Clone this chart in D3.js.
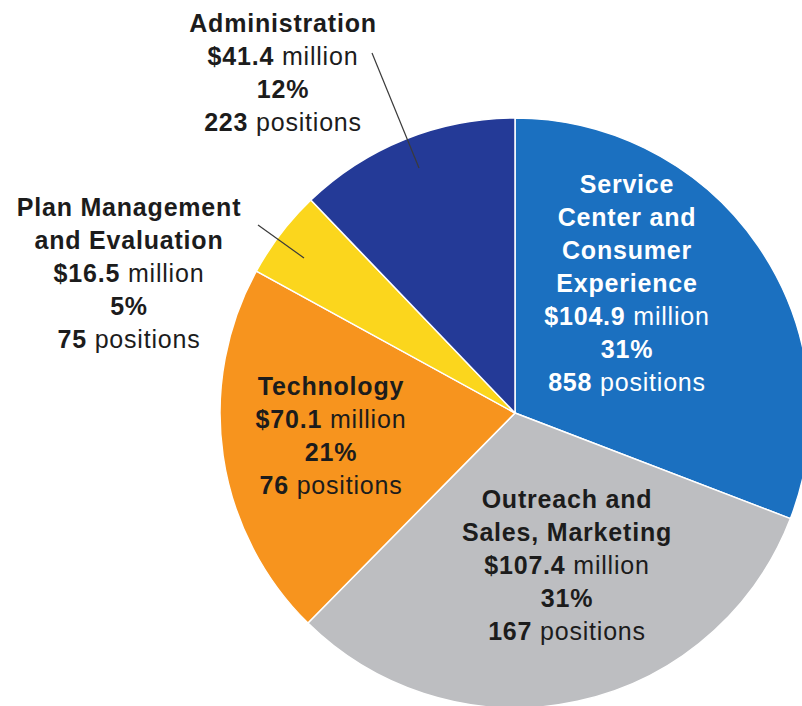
<!DOCTYPE html>
<html>
<head>
<meta charset="utf-8">
<script src="https://cdn.jsdelivr.net/npm/d3@7"></script>
<style>
  html, body { margin: 0; padding: 0; background: #fff; }
  svg { display: block; }
  .lbl { font-family: "Helvetica Neue", Helvetica, "Liberation Sans", Arial, sans-serif; font-size: 25px; letter-spacing: 0.8px; }
  .lbl .b { font-weight: bold; }
</style>
</head>
<body>
<svg id="chart" width="802" height="706"></svg>
<script>
  // budget by area, clockwise from 12 o'clock
  const areas = ["Service Center and Consumer Experience", "Outreach and Sales, Marketing", "Technology", "Plan Management and Evaluation", "Administration"];
  const millions = [104.9, 107.4, 70.1, 16.5, 41.4];
  const percents = [31, 31, 21, 5, 12];
  const positions = [858, 167, 76, 75, 223];
  // how each title wraps in the label
  const titleLines = [
    ["Service", "Center and", "Consumer", "Experience"],
    ["Outreach and", "Sales, Marketing"],
    ["Technology"],
    ["Plan Management", "and Evaluation"],
    ["Administration"]
  ];

  const colors = ["#1b70c0", "#bdbec1", "#f7941e", "#fbd61d", "#243a97"];
  const textColors = ["#ffffff", "#1c1c1c", "#1c1c1c", "#1c1c1c", "#1c1c1c"];

  // label placement: centre x, first baseline y
  const labelAt = [[627, 193], [567, 508], [331, 395], [129, 216], [283, 32]];
  // leader lines for the labels that sit outside the pie
  const leaders = { 3: [[258, 225], [304, 258]], 4: [[372, 53], [419, 168]] };

  const cx = 515, cy = 413, R = 295, LEAD = 33;
  const svg = d3.select('#chart');

  const pie = d3.pie().sort(null).value(d => d)(millions);
  const arc = d3.arc().innerRadius(0).outerRadius(R);

  svg.append('g').attr('transform', `translate(${cx},${cy})`)
    .selectAll('path').data(pie).join('path')
    .attr('d', arc)
    .attr('fill', (d, i) => colors[i])
    .attr('stroke', '#fff').attr('stroke-width', 1.5).attr('stroke-linejoin', 'round');

  Object.entries(leaders).forEach(([i, pts]) => {
    svg.append('path')
      .attr('d', d3.line()(pts))
      .attr('stroke', '#3a3a3a').attr('stroke-width', 1.2).attr('fill', 'none');
  });

  areas.forEach((name, i) => {
    const [x, y] = labelAt[i];
    const t = svg.append('text').attr('class', 'lbl')
      .attr('text-anchor', 'middle').attr('fill', textColors[i]);
    const rows = titleLines[i].map(s => [[s, true]]);
    rows.push([['$' + millions[i].toFixed(1), true], [' million', false]]);
    rows.push([[percents[i] + '%', true]]);
    rows.push([[String(positions[i]), true], [' positions', false]]);
    rows.forEach((parts, r) => {
      parts.forEach((p, k) => {
        const ts = t.append('tspan').text(p[0]).classed('b', p[1]);
        if (k === 0) ts.attr('x', x).attr('y', y + r * LEAD);
      });
    });
  });
</script>
</body>
</html>
